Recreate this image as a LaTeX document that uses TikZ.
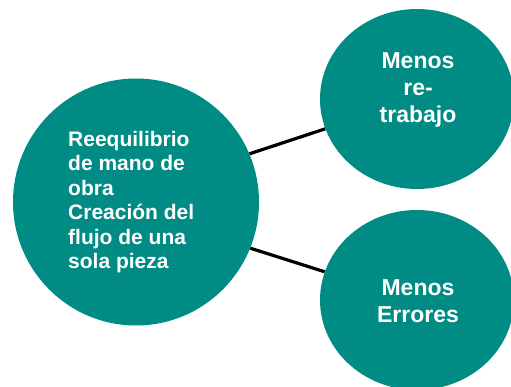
\documentclass[tikz,border=0pt]{standalone}
\usepackage{fontspec}
\setmainfont{Liberation Sans}
\usetikzlibrary{shapes.geometric}
\definecolor{teal1}{RGB}{0,140,132}
\tikzset{
  bubble/.style={ellipse, fill=teal1, draw=none, inner sep=0pt},
  txt/.style={text=white, inner sep=0pt, font=\bfseries},
  link/.style={line width=3.2pt, black}
}
\begin{document}
\begin{tikzpicture}[x=1pt,y=-1pt]
\useasboundingbox (0,0) rectangle (511,387);
\node[bubble, minimum width=246pt, minimum height=247pt] (L) at (136,202) {};
\node[bubble, minimum width=194pt, minimum height=180pt] (TR) at (417,99) {};
\node[bubble, minimum width=194pt, minimum height=180pt] (BR) at (417,300) {};
\draw[link] (L.23) -- (TR.198);
\draw[link] (L.-22) -- (BR.163);
\node[txt, anchor=north west, align=left, font=\bfseries\fontsize{21}{24.4}\selectfont] (Lt) at (68,131)
  {Reequilibrio\\de mano de\\obra\\Creación del\\flujo de una\\sola pieza};
\node[txt, anchor=north, align=center, font=\bfseries\fontsize{23}{27}\selectfont] (TRt) at (418,52)
  {Menos\\re-\\trabajo};
\node[txt, anchor=north, align=center, font=\bfseries\fontsize{23}{27}\selectfont] (BRt) at (418,279)
  {Menos\\Errores};
\end{tikzpicture}
\end{document}
